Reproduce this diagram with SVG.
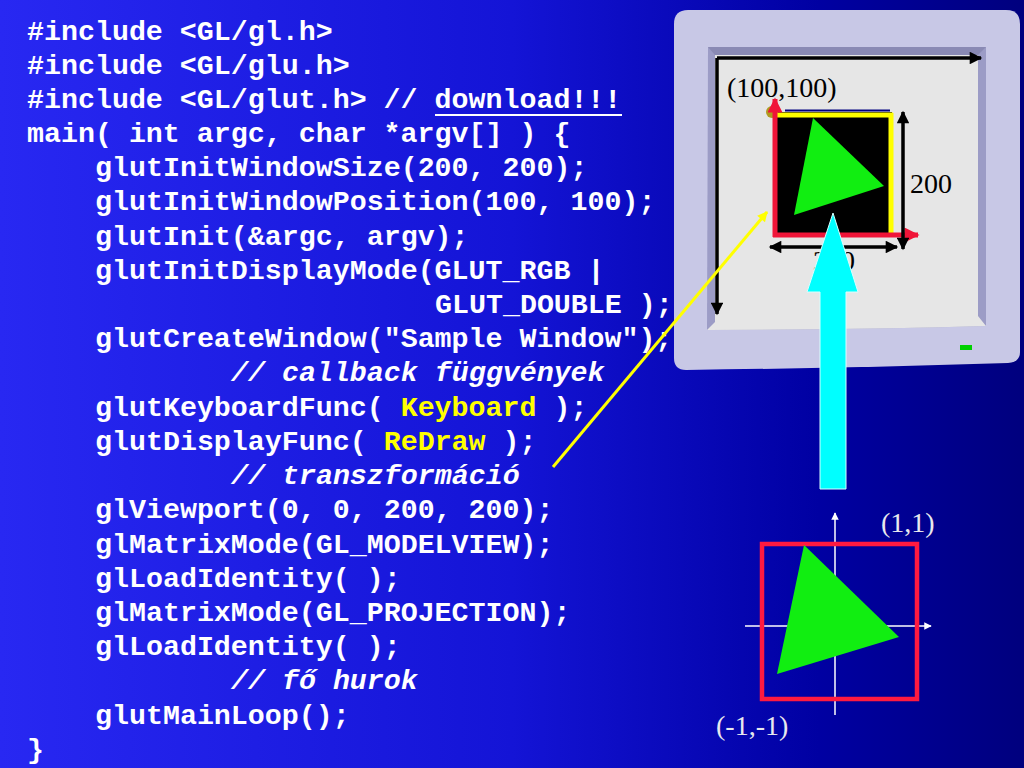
<svg xmlns="http://www.w3.org/2000/svg" width="1024" height="768" viewBox="0 0 1024 768">
<defs>
<linearGradient id="bg" x1="0" y1="0" x2="1" y2="0">
<stop offset="0" stop-color="#2828f2"/>
<stop offset="0.5" stop-color="#1414d6"/>
<stop offset="0.8" stop-color="#0000a2"/>
<stop offset="1" stop-color="#00007e"/>
</linearGradient>
<marker id="blk" viewBox="0 0 10 10" refX="9" refY="5" markerWidth="4" markerHeight="3.6" orient="auto-start-reverse" markerUnits="strokeWidth">
<path d="M0,0 L10,5 L0,10 Z" fill="#000"/>
</marker>
<marker id="red" viewBox="0 0 10 10" refX="9" refY="5" markerWidth="3.2" markerHeight="3" orient="auto" markerUnits="strokeWidth">
<path d="M0,0 L10,5 L0,10 Z" fill="#f01438"/>
</marker>
<marker id="yel" viewBox="0 0 10 10" refX="9" refY="5" markerWidth="4" markerHeight="3.4" orient="auto" markerUnits="strokeWidth">
<path d="M0,0 L10,5 L0,10 Z" fill="#ffff00"/>
</marker>
<marker id="wht" viewBox="0 0 10 10" refX="9" refY="5" markerWidth="6" markerHeight="5" orient="auto" markerUnits="strokeWidth">
<path d="M0,0 L10,5 L0,10 Z" fill="#fff"/>
</marker>
<style>
.code{font-family:"Liberation Mono","Courier New",monospace;font-weight:bold;font-size:28.3px;fill:#fff}
.cm{font-style:italic}
.hl{fill:#ffff00}
.lbl{font-family:"Liberation Serif","Times New Roman",serif;font-size:28px;fill:#000}
.lblw{font-family:"Liberation Serif","Times New Roman",serif;font-size:28px;fill:#e8e8ee}
.blk{stroke:#000;stroke-width:3.5;fill:none}
</style>
</defs>
<rect x="0" y="0" width="1024" height="768" fill="url(#bg)"/>

<g id="code">
<text class="code" x="27" y="40">#include &lt;GL/gl.h&gt;</text>
<text class="code" x="27" y="74">#include &lt;GL/glu.h&gt;</text>
<text class="code" x="27" y="108">#include &lt;GL/glut.h&gt; // download!!!</text>
<line x1="435" y1="115" x2="622" y2="115" stroke="#fff" stroke-width="2.2"/>
<text class="code" x="27" y="142">main( int argc, char *argv[] ) {</text>
<text class="code" x="95" y="176">glutInitWindowSize(200, 200);</text>
<text class="code" x="95" y="210">glutInitWindowPosition(100, 100);</text>
<text class="code" x="95" y="245">glutInit(&amp;argc, argv);</text>
<text class="code" x="95" y="279">glutInitDisplayMode(GLUT_RGB |</text>
<text class="code" x="435" y="313">GLUT_DOUBLE );</text>
<text class="code" x="95" y="347">glutCreateWindow("Sample Window");</text>
<text class="code cm" x="231" y="381">// callback függvények</text>
<text class="code" x="95" y="416">glutKeyboardFunc( <tspan class="hl">Keyboard</tspan> );</text>
<text class="code" x="95" y="450">glutDisplayFunc( <tspan class="hl">ReDraw</tspan> );</text>
<text class="code cm" x="231" y="484">// transzformáció</text>
<text class="code" x="95" y="518">glViewport(0, 0, 200, 200);</text>
<text class="code" x="95" y="553">glMatrixMode(GL_MODELVIEW);</text>
<text class="code" x="95" y="587">glLoadIdentity( );</text>
<text class="code" x="95" y="621">glMatrixMode(GL_PROJECTION);</text>
<text class="code" x="95" y="655">glLoadIdentity( );</text>
<text class="code cm" x="231" y="689">// fő hurok</text>
<text class="code" x="95" y="724">glutMainLoop();</text>
<text class="code" x="27" y="758">}</text>
</g>

<g id="monitor">
<path d="M688,10 L1006,10 Q1020,10 1020,24 L1020,352 Q1020,362 1008,363 Q850,368 686,370 Q674,370 674,358 L674,24 Q674,10 688,10 Z" fill="#c8c8e6"/>
<path d="M708,47 L986,47 L986,326 Q850,330 707,330 Z" fill="#9c9cc6"/>
<path d="M708,47 L986,47 L978,55 L715,55 Z" fill="#8a8ab4"/>
<path d="M715,55 L978,55 L978,316 L986,326 Q850,330 707,330 L715,322 Z" fill="#e6e6e6"/>
<rect x="960" y="345" width="12" height="5" fill="#00d000"/>
<line class="blk" x1="717" y1="58" x2="981" y2="58" marker-end="url(#blk)"/>
<line class="blk" x1="717" y1="58" x2="717" y2="314" marker-end="url(#blk)"/>
<text class="lbl" x="727" y="97">(100,100)</text>
</g>

<g id="window">
<rect x="773" y="112" width="119" height="125" fill="#000"/>
<line x1="785" y1="110.5" x2="890" y2="110.5" stroke="#000080" stroke-width="2"/>
<circle cx="772" cy="112" r="6" fill="#b09a20"/>
<line x1="776" y1="115" x2="893" y2="115" stroke="#ffff00" stroke-width="5"/>
<line x1="891" y1="113" x2="891" y2="236" stroke="#ffff00" stroke-width="5"/>
<line x1="775" y1="237" x2="775" y2="99" stroke="#f01438" stroke-width="5" marker-end="url(#red)"/>
<line x1="773" y1="235" x2="918" y2="235" stroke="#f01438" stroke-width="5" marker-end="url(#red)"/>
<polygon points="813,118 884,186 794,215" fill="#11ee11"/>
<line class="blk" x1="903" y1="112" x2="903" y2="249" marker-start="url(#blk)" marker-end="url(#blk)"/>
<line class="blk" x1="770" y1="247" x2="897" y2="247" marker-start="url(#blk)" marker-end="url(#blk)"/>
<text class="lbl" x="910" y="193">200</text>
<text class="lbl" x="813" y="270">200</text>
</g>

<g id="ndc">
<line x1="835" y1="715" x2="835" y2="513" stroke="#fff" stroke-width="1.5" marker-end="url(#wht)"/>
<line x1="745" y1="626" x2="931" y2="626" stroke="#fff" stroke-width="1.5" marker-end="url(#wht)"/>
<rect x="762" y="544" width="155" height="155" fill="none" stroke="#ff1a40" stroke-width="4.5"/>
<polygon points="804,545 899,637 777,674" fill="#11ee11"/>
<text class="lblw" x="881" y="532">(1,1)</text>
<text class="lblw" x="716" y="735">(-1,-1)</text>
</g>

<g id="connectors">
<line x1="553" y1="467" x2="767" y2="212" stroke="#ffff00" stroke-width="3" marker-end="url(#yel)"/>
<polygon points="833,213 858,292 846,292 846,489 820,489 820,292 807,292" fill="#00ffff" stroke="#d8ffff" stroke-width="1"/>
</g>
</svg>
